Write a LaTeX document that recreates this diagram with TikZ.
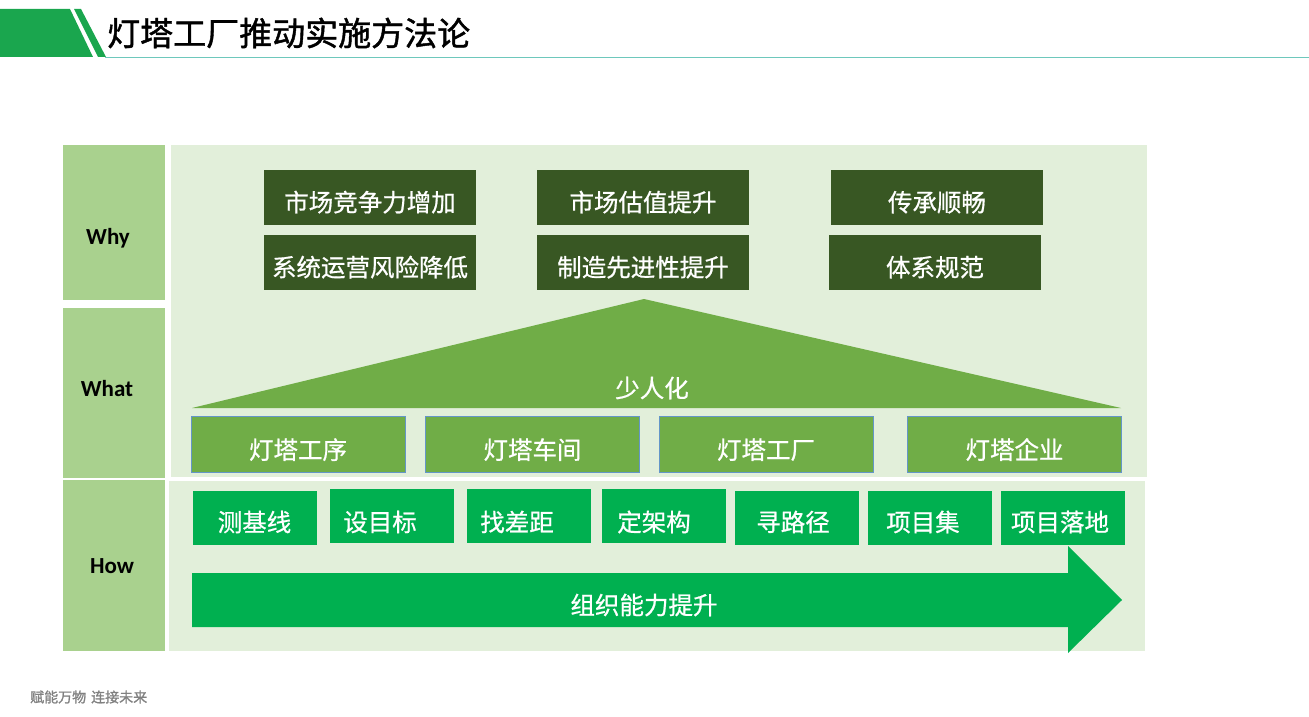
\documentclass[tikz,border=0pt]{standalone}
\usepackage{fontspec}
\setmainfont{Noto Sans CJK SC}
\newfontfamily\cjkb[FakeBold=1.3]{Noto Sans CJK SC}
\newfontfamily\cjkm[FakeBold=0.7]{Noto Sans CJK SC}
\newfontfamily\carlito{Carlito}
\definecolor{hdrgreen}{RGB}{26,166,78}
\definecolor{hdrteal}{RGB}{110,200,188}
\definecolor{colgreen}{RGB}{169,209,142}
\definecolor{panel}{RGB}{226,239,218}
\definecolor{darkg}{RGB}{56,87,35}
\definecolor{midg}{RGB}{112,173,71}
\definecolor{brightg}{RGB}{0,176,80}
\definecolor{edgeb}{RGB}{100,150,200}
\definecolor{footg}{RGB}{128,128,128}
\tikzset{
  colbox/.style={fill=colgreen,draw=none,inner sep=0pt,minimum width=102pt},
  coltxt/.style={inner sep=0pt,font=\carlito\bfseries\fontsize{23}{26}\selectfont,text=black},
  boxfont/.style={text=white,font=\cjkm\fontsize{24.5}{28}\selectfont},
  whybox/.style={boxfont,fill=darkg,draw=none,inner sep=0pt,minimum width=212pt,minimum height=54.5pt,text height=28pt,text depth=0pt},
  whatbox/.style={boxfont,fill=midg,draw=edgeb,line width=0.7pt,inner sep=0pt,minimum width=214pt,minimum height=56pt,text height=30pt,text depth=0pt},
  howbox/.style={fill=brightg,draw=none,inner sep=0pt,minimum width=124pt,minimum height=54pt},
  howtxt/.style={boxfont,inner sep=0pt},
}
\begin{document}
\begin{tikzpicture}[x=1pt,y=-1pt]
\useasboundingbox (0,0) rectangle (1309,717);
% header
\fill[hdrgreen] (0,9) -- (70,9) -- (93,57) -- (0,57) -- cycle;
\fill[hdrgreen] (74,9) -- (81,9) -- (106,57) -- (98,57) -- cycle;
\coordinate (tl) at (105,57.5);
\coordinate (tr) at (1309,57.5);
\draw[hdrteal,line width=1.5pt] (tl) -- (tr);
\node[anchor=west,inner sep=0pt,font=\cjkb\fontsize{33}{36}\selectfont,text=black] (title) at (107,33) {灯塔工厂推动实施方法论};
% panels
\fill[panel] (171,145) rectangle (1147,477);
\fill[panel] (169,481) rectangle (1145,651);
% left column
\node[colbox,minimum height=155pt] (why) at (114,222.5) {};
\node[coltxt] (whyt) at (108,238) {Why};
\node[colbox,minimum height=170pt] (what) at (114,393) {};
\node[coltxt] (whatt) at (107,389) {What};
\node[colbox,minimum height=171pt] (how) at (114,565.5) {};
\node[coltxt] (howt) at (112,566) {How};
% why boxes
\node[whybox] (w1) at (370,197.5) {市场竞争力增加};
\node[whybox] (w2) at (370,262.5) {系统运营风险降低};
\node[whybox] (w3) at (643,197.5) {市场估值提升};
\node[whybox] (w4) at (643,262.5) {制造先进性提升};
\node[whybox] (w5) at (937,197.5) {传承顺畅};
\node[whybox] (w6) at (935,262.5) {体系规范};
% triangle
\coordinate (apex) at (644,299);
\coordinate (bl) at (192,408);
\coordinate (br) at (1121,408);
\fill[midg] (bl) -- (apex) -- (br) -- cycle;
\node[boxfont,inner sep=0pt] (shao) at (652,388) {少人化};
% what boxes
\node[whatbox] (a1) at (298,444) {灯塔工序};
\node[whatbox] (a2) at (532.5,444) {灯塔车间};
\node[whatbox] (a3) at (766,444) {灯塔工厂};
\node[whatbox] (a4) at (1014.5,444) {灯塔企业};
% how boxes
\node[howbox] (h1) at (255,518) {};
\node[howtxt] (t1) at (254.5,522) {测基线};
\node[howbox] (h2) at (391.5,516) {};
\node[howtxt] (t2) at (380,522) {设目标};
\node[howbox] (h3) at (529,516) {};
\node[howtxt] (t3) at (517,522) {找差距};
\node[howbox] (h4) at (664,516) {};
\node[howtxt] (t4) at (654,522) {定架构};
\node[howbox] (h5) at (797,518) {};
\node[howtxt] (t5) at (793,522) {寻路径};
\node[howbox] (h6) at (930,518) {};
\node[howtxt] (t6) at (923,522) {项目集};
\node[howbox] (h7) at (1063,518) {};
\node[howtxt] (t7) at (1060,522) {项目落地};
% arrow
\fill[brightg] (192,573) -- (1068,573) -- (1068,546) -- (1122,600) -- (1068,653) -- (1068,627) -- (192,627) -- cycle;
\node[boxfont,inner sep=0pt] (org) at (644,605) {组织能力提升};
% footer
\node[anchor=west,inner sep=0pt,text=footg,font=\cjkb\fontsize{14}{16}\selectfont] (foot) at (30,697) {赋能万物\hspace{5pt}连接未来};
\end{tikzpicture}
\end{document}
